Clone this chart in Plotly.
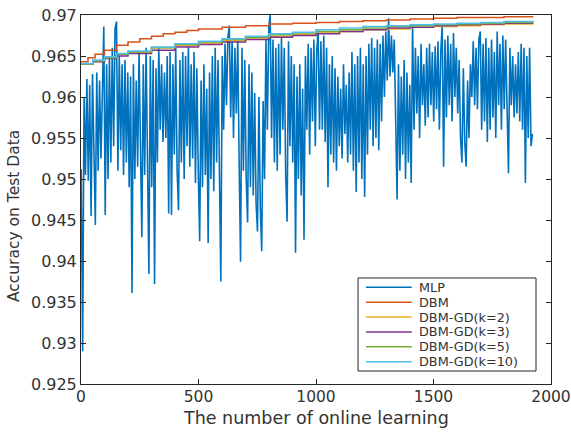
import plotly.graph_objects as go

# ---------------- data ----------------
mlp_x = list(range(1, 1922, 6))
mlp_acc = [
    .9512, .9290, .9600, .9505, .9622, .9498, .9615, .9455, .9628, .9520,
    .9444, .9630, .9510, .9620, .9525, .9605, .9686, .9456, .9640, .9500,
    .9648, .9520, .9660, .9540, .9684, .9692, .9510, .9650, .9535, .9640,
    .9505, .9645, .9520, .9630, .9490, .9625, .9361, .9640, .9500, .9620,
    .9515, .9655, .9530, .9429, .9640, .9505, .9660, .9525, .9384, .9650,
    .9490, .9645, .9372, .9635, .9520, .9660, .9560, .9640, .9545, .9630,
    .9550, .9650, .9458, .9655, .9456, .9640, .9530, .9660, .9510, .9462,
    .9645, .9520, .9655, .9500, .9650, .9540, .9662, .9515, .9640, .9525,
    .9655, .9495, .9635, .9510, .9424, .9620, .9490, .9640, .9505, .9610,
    .9422, .9630, .9500, .9650, .9485, .9660, .9520, .9645, .9495, .9375,
    .9650, .9560, .9665, .9590, .9672, .9687, .9575, .9668, .9550, .9660,
    .9580, .9670, .9520, .9399, .9660, .9510, .9645, .9500, .9447, .9640,
    .9490, .9630, .9480, .9605, .9470, .9436, .9600, .9465, .9412, .9595,
    .9500, .9670, .9560, .9685, .9700, .9550, .9670, .9520, .9660, .9510,
    .9665, .9530, .9672, .9560, .9660, .9505, .9448, .9668, .9540, .9650,
    .9520, .9640, .9410, .9625, .9500, .9640, .9480, .9610, .9426, .9650,
    .9560, .9665, .9530, .9660, .9570, .9670, .9540, .9655, .9681, .9560,
    .9668, .9560, .9675, .9545, .9660, .9490, .9640, .9530, .9650, .9520,
    .9635, .9510, .9625, .9540, .9610, .9525, .9640, .9555, .9615, .9520,
    .9630, .9530, .9655, .9510, .9640, .9484, .9650, .9520, .9660, .9500,
    .9640, .9478, .9650, .9530, .9665, .9560, .9672, .9540, .9660, .9550,
    .9670, .9535, .9665, .9570, .9675, .9600, .9680, .9620, .9696, .9625,
    .9675, .9630, .9670, .9560, .9475, .9640, .9510, .9625, .9530, .9645,
    .9500, .9630, .9520, .9615, .9495, .9688, .9560, .9660, .9580, .9650,
    .9550, .9665, .9590, .9640, .9565, .9660, .9575, .9665, .9590, .9655,
    .9570, .9662, .9585, .9668, .9560, .9655, .9688, .9515, .9670, .9575,
    .9675, .9590, .9665, .9570, .9678, .9600, .9660, .9580, .9645, .9550,
    .9520, .9635, .9545, .9515, .9620, .9550, .9640, .9600, .9668, .9590,
    .9660, .9585, .9670, .9680, .9560, .9665, .9570, .9672, .9545, .9660,
    .9560, .9670, .9575, .9655, .9550, .9680, .9590, .9665, .9560, .9675,
    .9585, .9670, .9560, .9507, .9660, .9590, .9650, .9575, .9640, .9580,
    .9655, .9570, .9665, .9560, .9660, .9495, .9650, .9550, .9660, .9540,
    .9555,
]

dbm_x = [0, 30, 60, 100, 150, 200, 250, 300, 350, 400, 450, 500, 600, 700, 800,
         900, 1000, 1100, 1200, 1300, 1400, 1500, 1600, 1700, 1800, 1925]
dbm_acc = [.9643, .9648, .9652, .9657, .9663, .9667, .9671, .9674, .9677, .9679,
           .9681, .9683, .9685, .9687, .9689, .9690, .9691, .9692, .9693, .9694,
           .9695, .9696, .9697, .9697, .9698, .9698]

gd_x = [0, 50, 100, 150, 200, 300, 400, 500, 600, 700, 800, 900, 1000, 1100,
        1200, 1300, 1400, 1500, 1600, 1700, 1800, 1925]
gd_k2_acc = [.9640, .9644, .9648, .9652, .9655, .9660, .9663, .9666, .9669, .9672,
             .9674, .9676, .9678, .9680, .9682, .9683, .9685, .9686, .9687, .9688,
             .9689, .9689]
gd_k3_acc = [.9640, .9643, .9647, .9650, .9653, .9657, .9661, .9664, .9667, .9670,
             .9673, .9675, .9677, .9680, .9682, .9684, .9685, .9687, .9688, .9689,
             .9690, .9690]
gd_k5_acc = [.9640, .9644, .9648, .9652, .9655, .9660, .9664, .9667, .9670, .9673,
             .9676, .9678, .9680, .9682, .9684, .9686, .9687, .9688, .9689, .9690,
             .9691, .9691]
gd_k10_acc = [.9641, .9645, .9649, .9653, .9656, .9661, .9665, .9668, .9671, .9674,
              .9677, .9679, .9682, .9684, .9686, .9687, .9688, .9689, .9690, .9691,
              .9692, .9693]

series_names = ["MLP", "DBM", "DBM-GD(k=2)", "DBM-GD(k=3)", "DBM-GD(k=5)", "DBM-GD(k=10)"]
colors = ["#0072BD", "#D95319", "#EDB120", "#7E2F8E", "#77AC30", "#4DBEEE"]

x_ticks = [0, 500, 1000, 1500, 2000]
y_ticks = [0.925, 0.93, 0.935, 0.94, 0.945, 0.95, 0.955, 0.96, 0.965, 0.97]
y_tick_text = ["0.925", "0.93", "0.935", "0.94", "0.945", "0.95", "0.955", "0.96", "0.965", "0.97"]
x_title = "The number of online learning"
y_title = "Accuracy on Test Data"

# ---------------- figure ----------------
FONT = "DejaVu Sans"
TXT = "#333333"

fig = go.Figure()
fig.add_trace(go.Scatter(x=mlp_x, y=mlp_acc, mode="lines", name=series_names[0],
                         line=dict(color=colors[0], width=1.6), showlegend=False))
step_series = [(dbm_x, dbm_acc), (gd_x, gd_k2_acc), (gd_x, gd_k3_acc),
               (gd_x, gd_k5_acc), (gd_x, gd_k10_acc)]
for i, (xs, ys) in enumerate(step_series, start=1):
    fig.add_trace(go.Scatter(x=xs, y=ys, mode="lines", name=series_names[i],
                             line=dict(color=colors[i], width=1.5, shape="hv"),
                             showlegend=False))

# custom compact legend (MATLAB style)
lx0, lx1, ly0, ly1 = 0.5894, 0.9681, 0.0352, 0.2873
fig.add_shape(type="rect", xref="paper", yref="paper", x0=lx0, x1=lx1, y0=ly0, y1=ly1,
              line=dict(color="#262626", width=1), fillcolor="white", layer="above")
row_top, row_step = 0.262, 0.0403
for i, name in enumerate(series_names):
    yy = row_top - i * row_step
    fig.add_shape(type="line", xref="paper", yref="paper", x0=0.6064, x1=0.7036,
                  y0=yy, y1=yy, line=dict(color=colors[i], width=1.5), layer="above")
    fig.add_annotation(xref="paper", yref="paper", x=0.7143, y=yy, text=name,
                       showarrow=False, xanchor="left", yanchor="middle",
                       font=dict(family=FONT, size=12.8, color=TXT))

# axis titles
fig.add_annotation(xref="paper", yref="paper", x=0.5, y=0, yshift=-34, text=x_title,
                   showarrow=False, xanchor="center", yanchor="middle",
                   font=dict(family=FONT, size=17.5, color=TXT))
fig.add_annotation(xref="paper", yref="paper", x=0, xshift=-67, y=0.455, text=y_title,
                   textangle=-90, showarrow=False, xanchor="center", yanchor="middle",
                   font=dict(family=FONT, size=15.5, color=TXT))

axis_common = dict(showline=True, linecolor="#262626", linewidth=1, mirror="ticks",
                   ticks="inside", ticklen=5, tickcolor="#262626", showgrid=False,
                   zeroline=False, automargin=False, ticklabeloverflow="allow")

fig.update_layout(
    width=571, height=432,
    margin=dict(l=81, r=20, t=15, b=48),
    paper_bgcolor="white", plot_bgcolor="white",
    showlegend=False,
    xaxis=dict(range=[0, 2000], tickvals=x_ticks, ticktext=[str(v) for v in x_ticks],
               ticklabelstandoff=-2,
               tickfont=dict(family=FONT, size=15.5, color=TXT), **axis_common),
    yaxis=dict(range=[0.925, 0.97], tickvals=y_ticks, ticktext=y_tick_text,
               tickfont=dict(family=FONT, size=16, color=TXT), **axis_common),
)

fig.write_html("out.html", config={"displayModeBar": False},
               post_script="document.body.style.margin='0';")
